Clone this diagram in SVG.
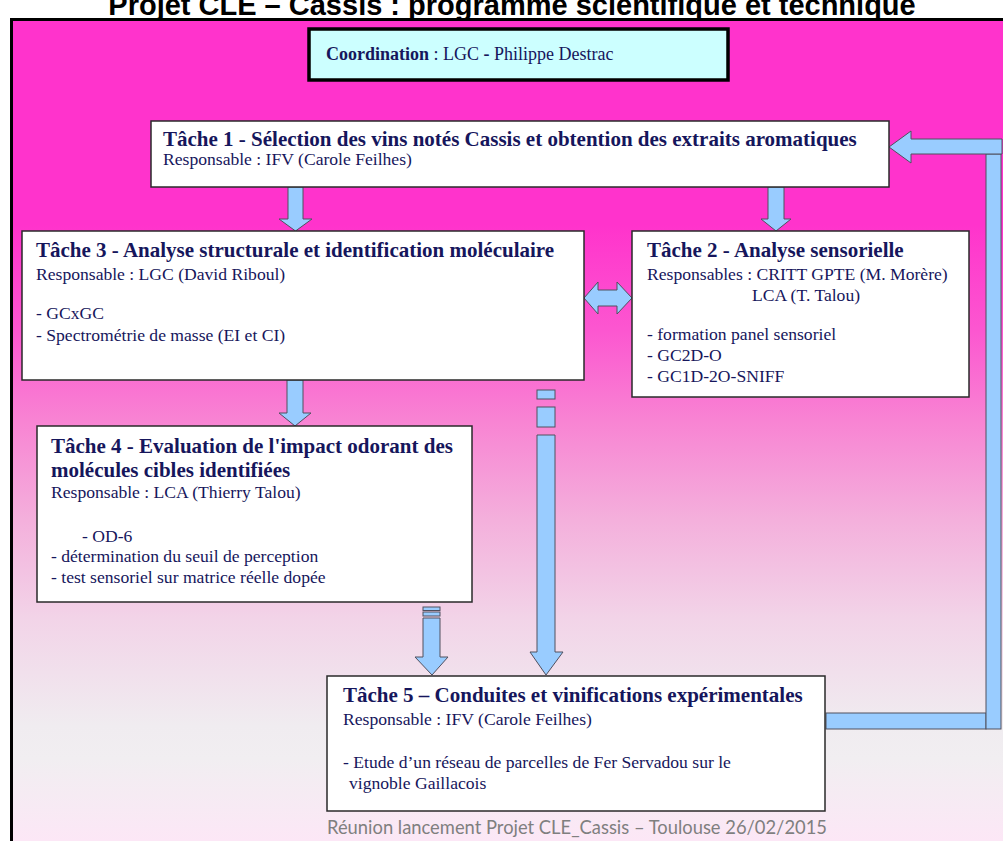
<svg xmlns="http://www.w3.org/2000/svg" width="1003" height="841" viewBox="0 0 1003 841">
<defs>
<linearGradient id="bg" gradientUnits="userSpaceOnUse" x1="0" y1="19" x2="0" y2="841">
<stop offset="0" stop-color="#FF33CC"/>
<stop offset="0.25" stop-color="#FF33CC"/>
<stop offset="0.38" stop-color="#FC57D0"/>
<stop offset="0.49" stop-color="#F884D3"/>
<stop offset="0.61" stop-color="#F4B0DC"/>
<stop offset="0.73" stop-color="#F2D4E8"/>
<stop offset="0.86" stop-color="#F0ECF0"/>
<stop offset="0.9" stop-color="#F1EEF1"/>
<stop offset="1" stop-color="#FCE7F6"/>
</linearGradient>
<style>
.box{fill:#FFFFFF;stroke:#2A2A2A;stroke-width:1.5}
.coord{fill:#CCFFFF;stroke:#000000;stroke-width:3.5}
.arr{fill:#99CCFF;stroke:#50505F;stroke-width:1}
.t{font-family:"Liberation Serif","Times New Roman",serif;fill:#16165C}
.h{font-size:21px;font-weight:bold}
.r{font-size:17.6px}
.title{font-family:"Liberation Sans",Arial,sans-serif;font-size:29px;font-weight:bold;fill:#000000}
.foot{font-family:Lato,"Liberation Sans",sans-serif;font-size:19px;fill:#7F7F7F}
</style>
</defs>
<rect x="0" y="0" width="1003" height="841" fill="#FFFFFF"/>
<rect x="11" y="19" width="992" height="822" fill="url(#bg)"/>
<path d="M11.5 841 V19.5 H1003" fill="none" stroke="#000000" stroke-width="3"/>
<text class="title" x="512" y="15" text-anchor="middle">Projet CLE – Cassis : programme scientifique et technique</text>

<g id="connectors">
<path class="arr" d="M288 187 H303 V219 H312 L295.5 231 L279 219 H288 Z"/>
<path class="arr" d="M768 187 H784 V219 H791 L776 231 L761 219 H768 Z"/>
<path class="arr" d="M287 380 H303 V413 H311 L295 426 L279 413 H287 Z"/>
<path class="arr" d="M584 298 L598 282 V290 H617 V282 L632 298 L617 314 V306 H598 V314 Z"/>
<rect class="arr" x="423" y="607" width="17" height="3.5"/>
<rect class="arr" x="423" y="612" width="17" height="4"/>
<path class="arr" d="M423 618 H440 V657 H448 L432 675 L415 657 H423 Z"/>
<rect class="arr" x="537" y="390" width="18" height="9"/>
<rect class="arr" x="537" y="407" width="18" height="20"/>
<path class="arr" d="M537 435 H555 V652 H563 L546 675 L530 652 H537 Z"/>
<rect class="arr" x="826" y="713" width="160" height="16"/>
<rect class="arr" x="986" y="154" width="15" height="575"/>
<path class="arr" d="M889 147 L911 131 V139 H1002 V154 H911 V163 Z"/>
</g>

<g id="coordination">
<rect class="coord" x="309" y="29" width="419" height="51"/>
<text class="t" x="326" y="60" font-size="18px"><tspan font-weight="bold">Coordination</tspan> : LGC <tspan font-weight="bold">-</tspan> Philippe Destrac</text>
</g>

<g id="tache1">
<rect class="box" x="151" y="121" width="738" height="66"/>
<text class="t h" x="163" y="146">Tâche 1 - Sélection des vins notés Cassis et obtention des extraits aromatiques</text>
<text class="t r" x="163" y="165">Responsable : IFV (Carole Feilhes)</text>
</g>

<g id="tache3">
<rect class="box" x="22" y="231" width="562" height="149"/>
<text class="t h" x="36" y="257">Tâche 3 - Analyse structurale et identification moléculaire</text>
<text class="t r" x="36" y="280">Responsable : LGC (David Riboul)</text>
<text class="t r" x="36" y="319">- GCxGC</text>
<text class="t r" x="36" y="341">- Spectrométrie de masse (EI et CI)</text>
</g>

<g id="tache2">
<rect class="box" x="632" y="231" width="337" height="166"/>
<text class="t h" x="647" y="257">Tâche 2 - Analyse sensorielle</text>
<text class="t r" x="647" y="280">Responsables : CRITT GPTE (M. Morère)</text>
<text class="t r" x="752" y="301">LCA (T. Talou)</text>
<text class="t r" x="647" y="340">- formation panel sensoriel</text>
<text class="t r" x="647" y="361">- GC2D-O</text>
<text class="t r" x="647" y="382">- GC1D-2O-SNIFF</text>
</g>

<g id="tache4">
<rect class="box" x="37" y="426" width="435" height="176"/>
<text class="t h" x="51" y="453">Tâche 4 - Evaluation de l'impact odorant des</text>
<text class="t h" x="51" y="477">molécules cibles identifiées</text>
<text class="t r" x="51" y="498">Responsable : LCA (Thierry Talou)</text>
<text class="t r" x="82" y="542">- OD-6</text>
<text class="t r" x="51" y="562">- détermination du seuil de perception</text>
<text class="t r" x="51" y="583">- test sensoriel sur matrice réelle dopée</text>
</g>

<g id="tache5">
<rect class="box" x="327" y="676" width="498" height="135"/>
<text class="t h" x="343" y="702">Tâche 5 – Conduites et vinifications expérimentales</text>
<text class="t r" x="343" y="725">Responsable : IFV (Carole Feilhes)</text>
<text class="t r" x="343" y="768">- Etude d’un réseau de parcelles de Fer Servadou sur le</text>
<text class="t r" x="349" y="789">vignoble Gaillacois</text>
</g>

<text class="foot" x="327" y="834" textLength="500" lengthAdjust="spacingAndGlyphs">Réunion lancement Projet CLE_Cassis  – Toulouse 26/02/2015</text>
</svg>
